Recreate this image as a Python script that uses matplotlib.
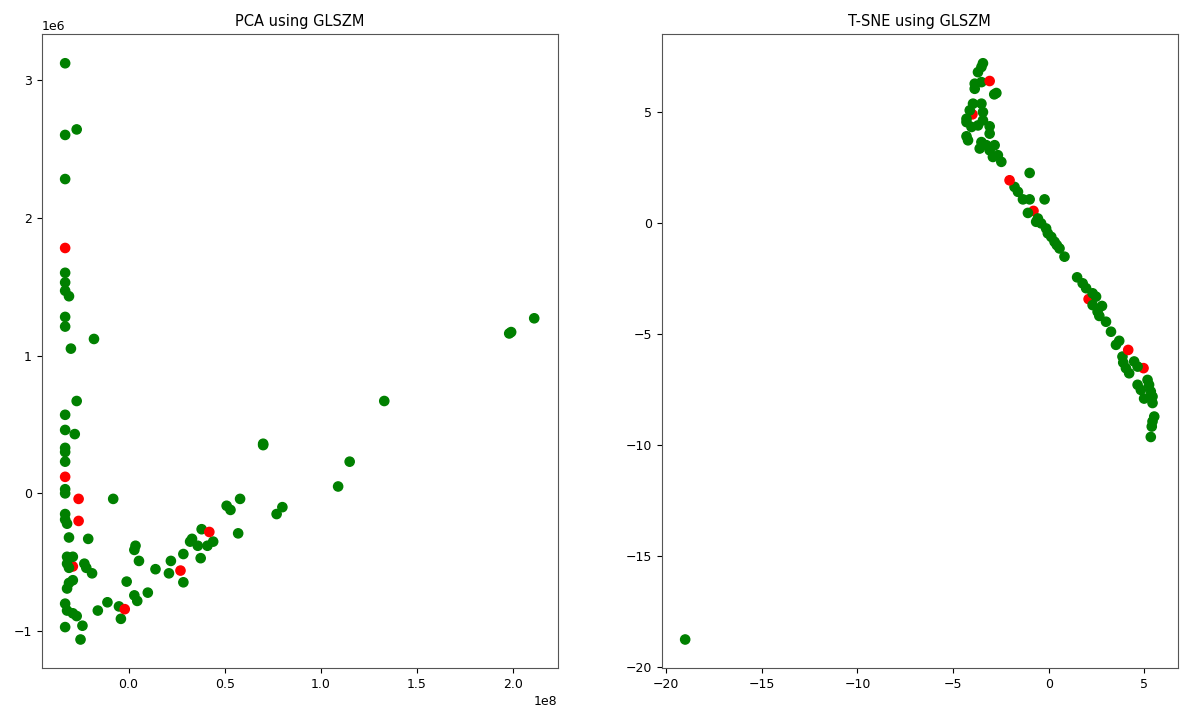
import numpy as np
import matplotlib
matplotlib.use('Agg')
import matplotlib.pyplot as plt

# PCA components (x in units of 1e8, y in units of 1e6), label 1 = red class
pca_x = [-0.29, -0.33, -0.33, -0.27, -0.33, -0.33, -0.33, -0.33, -0.31, -0.33, -0.33, -0.18, -0.30,
         -0.27, -0.33, -0.33, -0.28, -0.33, -0.33, -0.33, -0.33, -0.33, -0.08, -0.33, -0.33, -0.32,
         -0.31, -0.21, -0.32, -0.29, -0.32, -0.31, -0.23, -0.22, -0.19, -0.29, -0.31, -0.32, -0.33,
         -0.32, -0.29, -0.27, -0.33, -0.24, -0.25, -0.16, -0.11, -0.05, -0.04, -0.01, 0.03, 0.045,
         0.10, 0.036, 0.03, 0.054, 0.14, 0.22, 0.21, 0.285, 0.285, 0.375, 0.32, 0.33, 0.36, 0.38,
         0.41, 0.44, 0.51, 0.53, 0.57, 0.58, 0.70, 0.70, 0.80, 0.77, 1.09, 1.15, 1.33, 1.98, 1.99,
         2.11,
         -0.33, -0.33, -0.26, -0.26, -0.02, 0.27, 0.42]
pca_y = [-0.53, 3.12, 2.60, 2.64, 2.28, 1.60, 1.53, 1.47, 1.43, 1.28, 1.21, 1.12, 1.05,
         0.67, 0.57, 0.46, 0.43, 0.33, 0.30, 0.23, 0.03, 0.0, -0.04, -0.15, -0.19, -0.22,
         -0.32, -0.33, -0.46, -0.46, -0.51, -0.54, -0.51, -0.54, -0.58, -0.63, -0.65, -0.69, -0.80,
         -0.85, -0.87, -0.89, -0.97, -0.96, -1.06, -0.85, -0.79, -0.82, -0.91, -0.64, -0.74, -0.78,
         -0.72, -0.38, -0.41, -0.49, -0.55, -0.49, -0.58, -0.645, -0.44, -0.47, -0.35, -0.33, -0.38, -0.26,
         -0.38, -0.35, -0.09, -0.12, -0.29, -0.04, 0.36, 0.35, -0.10, -0.15, 0.05, 0.23, 0.67, 1.16, 1.17,
         1.27,
         1.78, 0.12, -0.04, -0.20, -0.84, -0.56, -0.28]
pca_label = [1] + [0] * 81 + [1] * 7

# t-SNE components, label 1 = red class
tsne_x = [-3.99, -3.44, -3.52, -3.70, -3.87, -3.52, -3.87, -2.74, -2.85, -3.96, -3.52, -4.13, -3.44,
          -4.30, -4.30, -3.44, -3.70, -3.09, -4.04, -3.09, -4.30, -4.22, -3.52, -3.26, -2.83, -3.61,
          -3.09, -2.66, -2.92, -2.48, -1.0, -1.79, -1.61, -0.80, -1.35, -1.0, -0.22, -1.09, -0.57,
          -0.66, -0.40, -0.14, -0.05, 0.13, 0.30, 0.42, 0.56, 0.82, 1.48, 1.77, 1.95, 2.08, 2.29,
          2.47, 2.78, 2.29, 2.55, 2.64, 2.99, 3.25, 3.51, 3.68, 3.85, 3.89, 4.03, 4.20, 4.95, 4.46,
          4.64, 4.64, 4.81, 5.16, 5.24, 5.33, 5.42, 4.98, 5.42, 5.51, 5.42, 5.38, 5.33, -19.0,
          -3.09, -2.05, 4.15]
tsne_y = [4.90, 7.2, 7.03, 6.8, 6.28, 6.35, 6.05, 5.86, 5.8, 5.38, 5.38, 5.08, 5.0,
          4.70, 4.55, 4.63, 4.40, 4.36, 4.33, 4.03, 3.91, 3.73, 3.65, 3.51, 3.51, 3.36,
          3.28, 3.06, 2.98, 2.76, 2.26, 1.63, 1.41, 0.55, 1.07, 1.07, 1.07, 0.46, 0.21,
          0.06, -0.01, -0.24, -0.46, -0.62, -0.84, -0.99, -1.14, -1.51, -2.44, -2.71, -2.93, -3.42, -3.16,
          -3.31, -3.73, -3.69, -3.99, -4.18, -4.44, -4.89, -5.48, -5.30, -6.01, -6.28, -6.53, -6.76, -6.53, -6.23,
          -6.46, -7.28, -7.51, -7.06, -7.28, -7.58, -7.81, -7.90, -8.10, -8.71, -8.93, -9.16, -9.63, -18.75,
          6.40, 1.93, -5.71]
tsne_label = [1] + [0] * 32 + [1] + [0] * 17 + [1] + [0] * 14 + [1] + [0] * 15 + [1, 1, 1]

colors = ['green', 'red']

plt.rcParams['font.size'] = 9

fig = plt.figure(figsize=(11.81, 7.16), dpi=100)
ax1 = fig.add_axes([0.0353, 0.0666, 0.4369, 0.8853])
ax2 = fig.add_axes([0.5603, 0.0666, 0.4369, 0.8853])

ax1.scatter(np.array(pca_x) * 1e8, np.array(pca_y) * 1e6,
            c=[colors[l] for l in pca_label], s=44)
ax1.set_title('PCA using GLSZM', fontsize=10.5)

ax2.scatter(tsne_x, tsne_y, c=[colors[l] for l in tsne_label], s=44)
ax2.set_title('T-SNE using GLSZM', fontsize=10.5)

for ax in (ax1, ax2):
    ax.tick_params(length=3.5)
    for sp in ax.spines.values():
        sp.set_color('#555555')

fig.savefig('out.png', dpi=100)
